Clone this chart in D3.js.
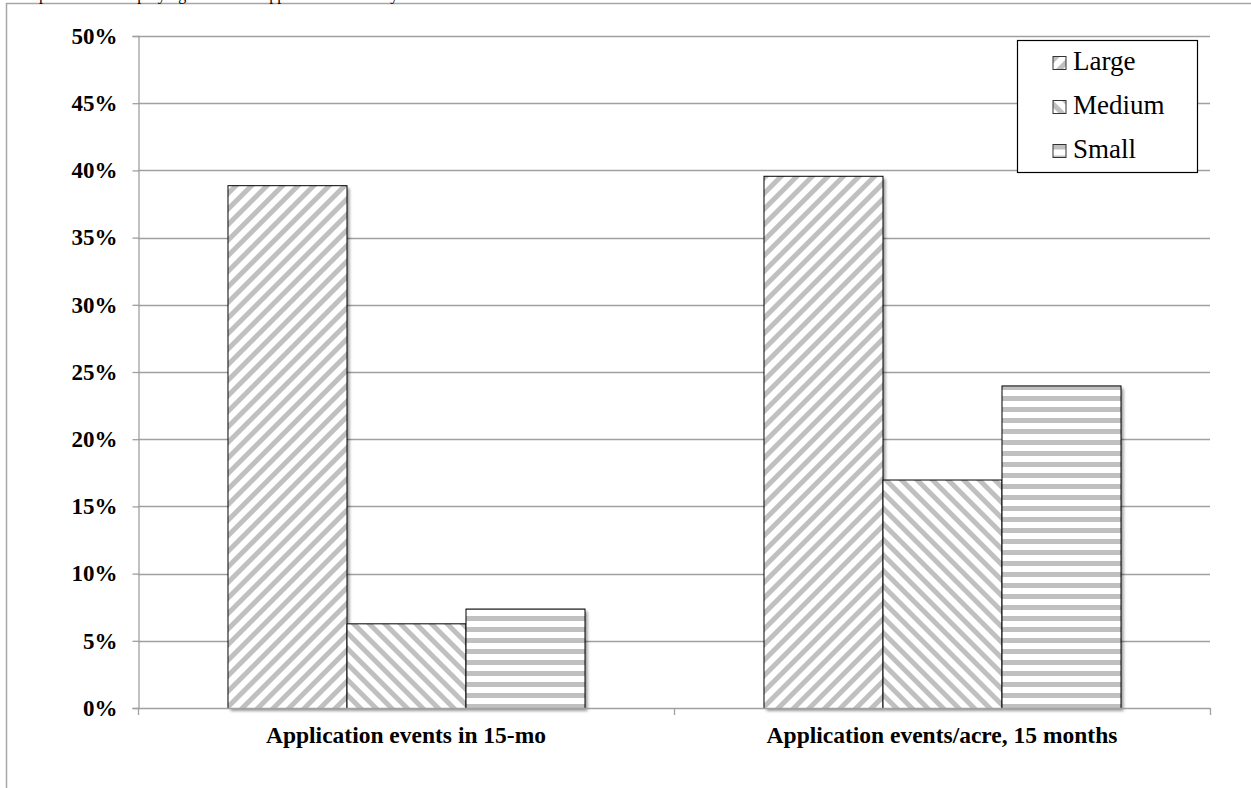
<!DOCTYPE html>
<html>
<head>
<meta charset="utf-8">
<script src="https://cdn.jsdelivr.net/npm/d3@7"></script>
<style>
  html, body { margin: 0; padding: 0; background: #fff; overflow: hidden; }
  svg { display: block; }
  text { font-family: "Liberation Serif", "Times New Roman", serif; }
</style>
</head>
<body>
<script>
// Chart data
const categories = ["Application events in 15-mo", "Application events/acre, 15 months"];
const series = ["Large", "Medium", "Small"];
const large  = [0.389, 0.396];
const medium = [0.063, 0.170];
const small  = [0.074, 0.240];
const yTicks = [0, 0.05, 0.10, 0.15, 0.20, 0.25, 0.30, 0.35, 0.40, 0.45, 0.50];
const captionText = "Comparison of the spraying events and application events by farm size";

const values = { Large: large, Medium: medium, Small: small };

const W = 1251, H = 788;
const margin = { left: 138, right: 41, top: 36, bottom: 80 };

const svg = d3.select("body").append("svg").attr("width", W).attr("height", H);
const defs = svg.append("defs");

// Stripe fills for the three series
const stripeGray = "#c0c0c0";
function stripePattern(id, angle, period, band) {
  const p = defs.append("pattern")
    .attr("id", id)
    .attr("patternUnits", "userSpaceOnUse")
    .attr("width", period).attr("height", period)
    .attr("patternTransform", `rotate(${angle})`);
  p.append("rect").attr("width", period).attr("height", period).attr("fill", "#fff");
  p.append("rect").attr("width", period).attr("height", band).attr("fill", stripeGray);
}
stripePattern("pat-Large", -45, 11, 5);
stripePattern("pat-Medium", 45, 11, 5);
stripePattern("pat-Small", 0, 11, 5);

const shadow = defs.append("filter").attr("id", "barShadow")
  .attr("x", "-10%").attr("y", "-10%").attr("width", "130%").attr("height", "130%");
shadow.append("feGaussianBlur").attr("stdDeviation", 1.8);

// Outer chart frame (runs past the window on the right and bottom)
svg.append("rect")
  .attr("x", 6.5).attr("y", 3.5)
  .attr("width", W + 40).attr("height", H + 40)
  .attr("fill", "none").attr("stroke", "#a6a6a6").attr("stroke-width", 1.5);

// Caption line above the frame, clipped by the window top
svg.append("text")
  .attr("x", 8).attr("y", -0.5)
  .attr("font-size", 16)
  .attr("fill", "#000")
  .text(captionText);

const plotL = margin.left, plotR = W - margin.right;
const plotT = margin.top, plotB = H - margin.bottom;

const y = d3.scaleLinear().domain([0, 0.5]).range([plotB, plotT]);
const x0 = d3.scaleBand().domain(categories).range([plotL, plotR]).padding(0);
const x1 = d3.scaleBand().domain(series).range([0, x0.bandwidth()])
  .paddingInner(0).paddingOuter(0.752);

const axisGray = "#a0a0a0";

// Horizontal gridlines
svg.append("g").selectAll("line").data(yTicks.slice(1)).join("line")
  .attr("x1", plotL).attr("x2", plotR)
  .attr("y1", d => Math.round(y(d)) + 0.5).attr("y2", d => Math.round(y(d)) + 0.5)
  .attr("stroke", axisGray).attr("stroke-width", 1.3);

// Y axis
const yAxis = svg.append("g")
  .attr("transform", `translate(${plotL + 0.5},0)`)
  .call(d3.axisLeft(y).tickValues(yTicks).tickFormat(d3.format(".0%")).tickSize(6).tickPadding(15));
yAxis.select(".domain").attr("stroke", axisGray).attr("stroke-width", 1.3);
yAxis.selectAll(".tick line").attr("stroke", axisGray).attr("stroke-width", 1.3);
yAxis.selectAll(".tick text")
  .attr("font-family", "Liberation Serif, serif")
  .attr("font-size", 23).attr("font-weight", "bold").attr("fill", "#000");

// Bars: soft shadow first, then the striped fill
const groups = svg.append("g").selectAll("g").data(categories).join("g")
  .attr("transform", d => `translate(${x0(d)},0)`);

const barData = (c, i) => series.map(s => ({ s, v: values[s][i] }));

groups.selectAll("rect.shadow").data(barData).join("rect")
  .attr("class", "shadow")
  .attr("x", d => x1(d.s) + 3).attr("y", d => y(d.v) + 3)
  .attr("width", x1.bandwidth()).attr("height", d => y(0) - y(d.v))
  .attr("fill", "#000").attr("opacity", 0.4)
  .attr("filter", "url(#barShadow)");

groups.selectAll("rect.bar").data(barData).join("rect")
  .attr("class", "bar")
  .attr("x", d => x1(d.s) + 0.5).attr("y", d => y(d.v) + 0.5)
  .attr("width", x1.bandwidth()).attr("height", d => y(0) - y(d.v))
  .attr("fill", d => `url(#pat-${d.s})`)
  .attr("stroke", "#000").attr("stroke-width", 1);

// X axis baseline with ticks at category boundaries
const xAxis = svg.append("g");
xAxis.append("line")
  .attr("x1", plotL).attr("x2", plotR)
  .attr("y1", plotB + 0.5).attr("y2", plotB + 0.5)
  .attr("stroke", axisGray).attr("stroke-width", 1.3);
const boundaries = categories.map(c => x0(c)).concat([x0(categories[categories.length - 1]) + x0.bandwidth()]);
xAxis.selectAll("line.tick").data(boundaries).join("line")
  .attr("class", "tick")
  .attr("x1", d => d + 0.5).attr("x2", d => d + 0.5)
  .attr("y1", plotB).attr("y2", plotB + 7)
  .attr("stroke", axisGray).attr("stroke-width", 1.3);
xAxis.selectAll("text").data(categories).join("text")
  .attr("x", d => x0(d) + x0.bandwidth() / 2)
  .attr("y", plotB + 35)
  .attr("text-anchor", "middle")
  .attr("font-size", 23.5).attr("font-weight", "bold").attr("fill", "#000")
  .text(d => d);

// Legend
const legend = svg.append("g").attr("transform", "translate(1017.5,40.5)");
legend.append("rect")
  .attr("width", 180).attr("height", 132)
  .attr("fill", "#fff").attr("stroke", "#000").attr("stroke-width", 1.2);
const items = legend.selectAll("g").data(series).join("g")
  .attr("transform", (d, i) => `translate(35.5,${16 + i * 44})`);
items.append("rect")
  .attr("width", 13).attr("height", 13)
  .attr("fill", d => `url(#pat-${d})`)
  .attr("stroke", "#333").attr("stroke-width", 1);
items.append("text")
  .attr("x", 20).attr("y", 13.5)
  .attr("font-size", 27).attr("fill", "#000")
  .text(d => d);
</script>
</body>
</html>
